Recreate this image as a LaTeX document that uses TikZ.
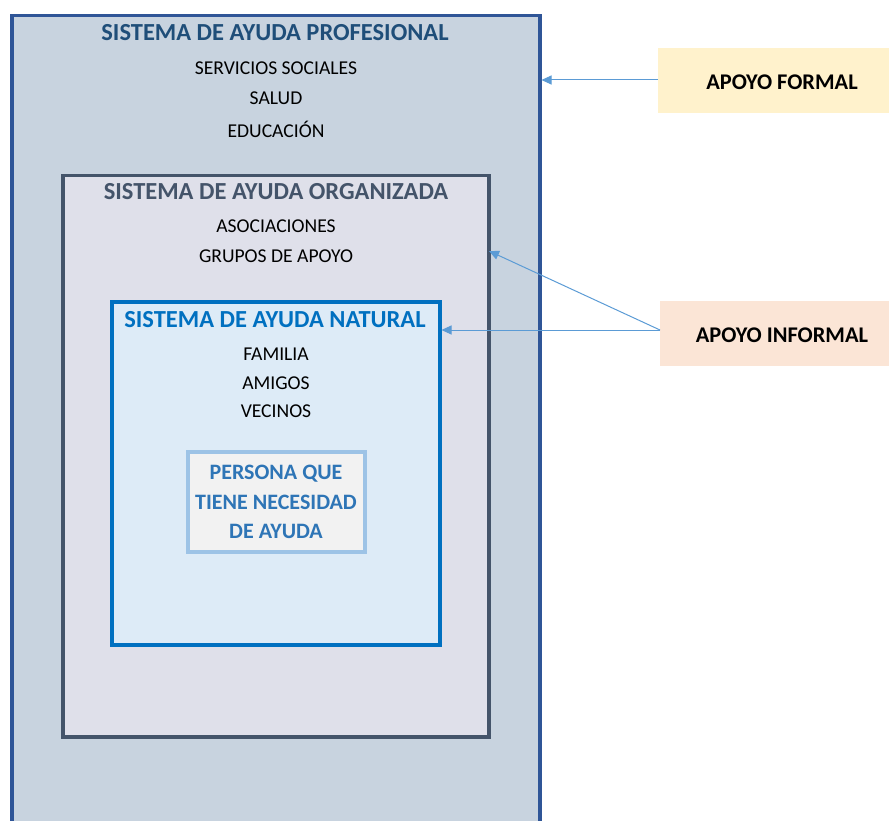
\documentclass[tikz,border=0pt]{standalone}
\usepackage{fontspec}
\setmainfont{Carlito}
\usepackage{tikz}
\usetikzlibrary{arrows, arrows.meta, positioning}
\definecolor{profcolor}{HTML}{2F5597}
\definecolor{proffill}{HTML}{C8D3DF}
\definecolor{proftext}{HTML}{1F4E79}
\definecolor{orgcolor}{HTML}{44546A}
\definecolor{orgfill}{HTML}{DFE0EA}
\definecolor{natcolor}{HTML}{0070C0}
\definecolor{natfill}{HTML}{DDEBF7}
\definecolor{percolor}{HTML}{9DC3E6}
\definecolor{pertext}{HTML}{2E75B6}
\definecolor{formalfill}{HTML}{FFF2CC}
\definecolor{informalfill}{HTML}{FBE5D6}
\definecolor{arrowcolor}{HTML}{5B9BD5}
\tikzset{
  sistema/.style={draw=#1, line width=3.5pt, anchor=north west, inner sep=0pt},
  boxtitle/.style={font=\fontsize{24.5}{28}\selectfont\bfseries, text=#1},
  item/.style={font=\fontsize{19.6}{22}\selectfont, text=black},
  apoyo/.style={fill=#1, anchor=north west, inner sep=0pt,
                minimum width=231pt, minimum height=65pt},
  apoyolabel/.style={font=\fontsize{22.4}{26}\selectfont\bfseries},
  flecha/.style={-{Triangle[length=10pt, width=9pt]}, draw=arrowcolor, line width=1pt},
}

\begin{document}
\begin{tikzpicture}[x=1pt, y=-1pt]
  \useasboundingbox (0,0) rectangle (889,821);

  % Sistemas
  \node[sistema=profcolor, fill=proffill, minimum width=528pt, minimum height=830pt]
    (profesional) at (10,14) {};
  \node[sistema=orgcolor, fill=orgfill, minimum width=426pt, minimum height=561pt]
    (organizada) at (61,174) {};
  \node[sistema=natcolor, fill=natfill, minimum width=328pt, minimum height=343pt]
    (natural) at (110,300) {};
  \node[sistema=percolor, fill=black!5, minimum width=177pt, minimum height=100pt]
    (persona) at (186,450) {};

  % Textos profesional
  \node[boxtitle=proftext] (tprof) at (275,33) {SISTEMA DE AYUDA PROFESIONAL};
  \node[item] (servicios) at (276,68) {SERVICIOS SOCIALES};
  \node[item] (salud) at (276,98) {SALUD};
  \node[item] (educacion) at (276,129) {EDUCACIÓN};

  % Textos organizada
  \node[boxtitle=orgcolor] (torg) at (276,192) {SISTEMA DE AYUDA ORGANIZADA};
  \node[item] (asociaciones) at (276,226) {ASOCIACIONES};
  \node[item] (grupos) at (276,256) {GRUPOS DE APOYO};

  % Textos natural
  \node[boxtitle=natcolor] (tnat) at (275,320) {SISTEMA DE AYUDA NATURAL};
  \node[item] (familia) at (276,354) {FAMILIA};
  \node[item] (amigos) at (276,383) {AMIGOS};
  \node[item] (vecinos) at (276,411) {VECINOS};

  % Persona
  \node[font=\fontsize{22}{29.5}\selectfont\bfseries, text=pertext, align=center]
    (tpersona) at (276,502) {PERSONA QUE\\TIENE NECESIDAD\\DE AYUDA};

  % Apoyos
  \node[apoyo=formalfill] (formal) at (658,48) {};
  \node[apoyolabel] at (782,82) {APOYO FORMAL};
  \node[apoyo=informalfill] (informal) at (660,301) {};
  \node[apoyolabel] at (782,335) {APOYO INFORMAL};

  % Flechas
  \coordinate (formalsal) at (658,80);
  \coordinate (informalsal) at (660,330);
  \coordinate (orgpunto) at (489,251);
  \draw[flecha] (formalsal) -- (formalsal -| profesional.east);
  \draw[flecha] (informalsal) -- (orgpunto);
  \draw[flecha] (informalsal) -- (informalsal -| natural.east);

\end{tikzpicture}
\end{document}
